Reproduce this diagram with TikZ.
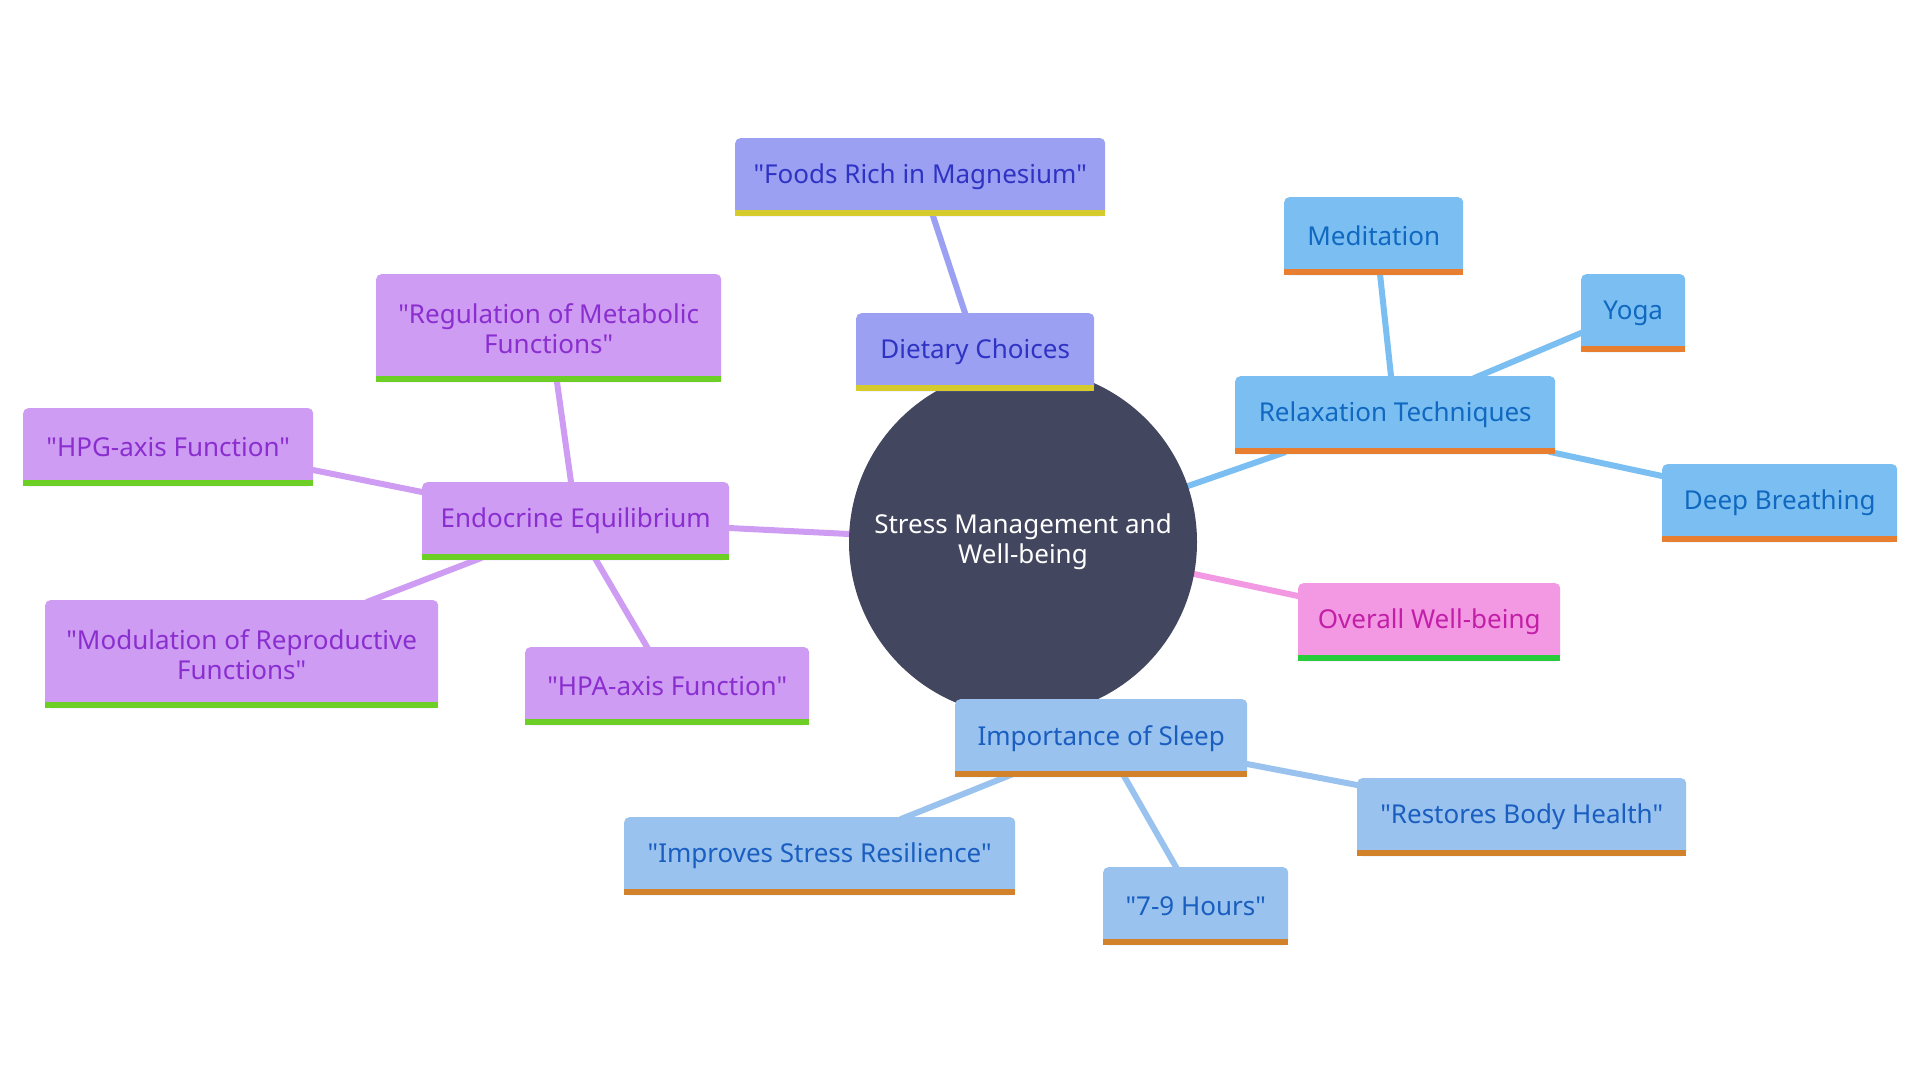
\documentclass[tikz,border=0pt]{standalone}
\usepackage{fontspec}
\newfontfamily\mmfont{Noto Sans}
\usetikzlibrary{calc}
\pgfdeclarelayer{background}
\pgfsetlayers{background,main}
\definecolor{rootF}{HTML}{42465E}
\definecolor{dietF}{HTML}{9BA0F2}\definecolor{dietT}{HTML}{2F33C4}\definecolor{dietB}{HTML}{D6CB2C}
\definecolor{relF}{HTML}{7BBFF2}\definecolor{relT}{HTML}{1068C0}\definecolor{relB}{HTML}{E87E2F}
\definecolor{ovF}{HTML}{F398E3}\definecolor{ovT}{HTML}{C21EA8}\definecolor{ovB}{HTML}{28CC3A}
\definecolor{slF}{HTML}{99C2EE}\definecolor{slT}{HTML}{1A5EC0}\definecolor{slB}{HTML}{D2822A}
\definecolor{enF}{HTML}{CE9CF2}\definecolor{enT}{HTML}{8A2ED0}\definecolor{enB}{HTML}{6DCF26}
\begin{document}
\begin{tikzpicture}[x=1pt,y=-1pt,
  mm/.style={anchor=north west, inner sep=0pt, rounded corners=5pt, minimum height=78pt,
    align=center, font=\mmfont\fontsize{26}{30}\selectfont},
  tall/.style={minimum height=108pt},
  gD/.style={mm, fill=dietF, text=dietT},
  gR/.style={mm, fill=relF, text=relT},
  gO/.style={mm, fill=ovF, text=ovT},
  gS/.style={mm, fill=slF, text=slT},
  gE/.style={mm, fill=enF, text=enT},
  link/.style={line width=6pt, shorten <=-6pt, shorten >=-6pt}
]
\useasboundingbox (0,0) rectangle (1920,1080);

\node[circle, fill=rootF, text=white, minimum size=348pt, inner sep=0pt, align=center,
  font=\mmfont\fontsize{26}{30}\selectfont] (circ) at (1023,542) {Stress Management and\\Well-being};

\node[gD, minimum width=370pt] (foods) at (735,138) {"Foods Rich in Magnesium"};
\node[gD, minimum width=238pt] (dietary) at (856,313) {Dietary Choices};

\node[gR, minimum width=179pt] (meditation) at (1284,197) {Meditation};
\node[gR, minimum width=104pt] (yoga) at (1581,274) {Yoga};
\node[gR, minimum width=320pt] (relax) at (1235,376) {Relaxation Techniques};
\node[gR, minimum width=235pt] (deep) at (1662,464) {Deep Breathing};

\node[gO, minimum width=262pt] (overall) at (1298,583) {Overall Well-being};

\node[gS, minimum width=292pt] (sleep) at (955,699) {Importance of Sleep};
\node[gS, minimum width=329pt] (restores) at (1357,778) {"Restores Body Health"};
\node[gS, minimum width=185pt] (hours) at (1103,867) {"7-9 Hours"};
\node[gS, minimum width=391pt] (improves) at (624,817) {"Improves Stress Resilience"};

\node[gE, minimum width=307pt] (endocrine) at (422,482) {Endocrine Equilibrium};
\node[gE, tall, minimum width=345pt] (regulation) at (376,274) {"Regulation of Metabolic\\Functions"};
\node[gE, minimum width=290pt] (hpg) at (23,408) {"HPG-axis Function"};
\node[gE, tall, minimum width=393pt] (modulation) at (45,600) {"Modulation of Reproductive\\Functions"};
\node[gE, minimum width=284pt] (hpa) at (525,647) {"HPA-axis Function"};

\foreach \n/\b in {foods/dietB, dietary/dietB,
  meditation/relB, yoga/relB, relax/relB, deep/relB,
  overall/ovB,
  sleep/slB, restores/slB, hours/slB, improves/slB,
  endocrine/enB, regulation/enB, hpg/enB, modulation/enB, hpa/enB}{
  \fill[\b] (\n.south west) rectangle ([yshift=6pt]\n.south east);
}

\begin{pgfonlayer}{background}
\fill[white] (0,0) rectangle (1920,1080);
\draw[link, dietF] (dietary.center) -- (circ.center);
\draw[link, slF] (sleep.center) -- (circ.center);
\draw[link, dietF] ($(foods.north west)+(198,78)$) -- ($(dietary.north west)+(109,0)$);
\draw[link, relF] ($(relax.north west)+(45,78)$) -- ($(circ.center)+(165,-56)$);
\draw[link, relF] ($(meditation.north west)+(96,77)$) -- ($(relax.north west)+(156,0)$);
\draw[link, relF] ($(yoga.north west)+(0,59)$) -- ($(relax.north west)+(244,0)$);
\draw[link, relF] ($(deep.north west)+(0,12)$) -- ($(relax.north west)+(320,77)$);
\draw[link, ovF] ($(overall.north west)+(0,13)$) -- ($(circ.center)+(171,32)$);
\draw[link, slF] ($(improves.north west)+(282,0)$) -- ($(sleep.north west)+(53,77)$);
\draw[link, slF] ($(hours.north west)+(73,0)$) -- ($(sleep.north west)+(169,77)$);
\draw[link, slF] ($(restores.north west)+(0,7)$) -- ($(sleep.north west)+(292,65)$);
\draw[link, enF] ($(endocrine.north west)+(307,46)$) -- ($(circ.center)+(-174,-8)$);
\draw[link, enF] ($(regulation.north west)+(181,108)$) -- ($(endocrine.north west)+(149,0)$);
\draw[link, enF] ($(hpg.north west)+(290,62)$) -- ($(endocrine.north west)+(0,10)$);
\draw[link, enF] ($(modulation.north west)+(327,0)$) -- ($(endocrine.north west)+(54,78)$);
\draw[link, enF] ($(hpa.north west)+(122,0)$) -- ($(endocrine.north west)+(174,78)$);
\end{pgfonlayer}
\end{tikzpicture}
\end{document}
